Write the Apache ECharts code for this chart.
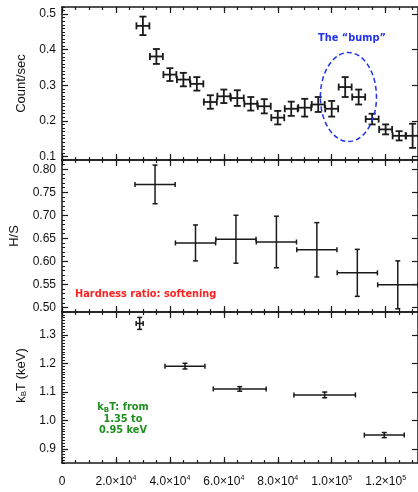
<!DOCTYPE html>
<html>
<head>
<meta charset="utf-8">
<script src="https://cdn.jsdelivr.net/npm/echarts@6/dist/echarts.min.js"></script>
<style>
html, body { margin: 0; padding: 0; background: #fff; }
#chart { width: 418px; height: 492px; }
</style>
</head>
<body>
<div id="chart"></div>
<script>
// light curve, 5 ks bins
var countTime = [30000, 35000, 40000, 45000, 50000, 55000, 60000, 65000, 70000, 75000, 80000,
                 85000, 90000, 95000, 100000, 105000, 110000, 115000, 120000, 125000, 130000];
var countRate = [0.467, 0.381, 0.330, 0.316, 0.304, 0.253, 0.269, 0.264, 0.248, 0.241, 0.209,
                 0.234, 0.237, 0.246, 0.234, 0.295, 0.267, 0.205, 0.176, 0.158, 0.158];
var countErr = [0.026, 0.021, 0.018, 0.019, 0.019, 0.019, 0.019, 0.022, 0.019, 0.020, 0.019,
                0.020, 0.025, 0.021, 0.022, 0.028, 0.021, 0.015, 0.014, 0.013, 0.034];
var countHalfBin = 2400;

// hardness ratio, 15 ks bins
var hsTime = [34500, 49500, 64500, 79500, 94500, 109500, 124500];
var hsRatio = [0.767, 0.640, 0.648, 0.642, 0.625, 0.575, 0.549];
var hsErr = [0.042, 0.039, 0.052, 0.056, 0.059, 0.051, 0.052];
var hsHalfBin = 7450;

// temperature
var ktTime = [28800, 45600, 65900, 97400, 119500];
var ktHalfBin = [1300, 7400, 9800, 11400, 7400];
var ktValue = [1.340, 1.190, 1.110, 1.089, 0.948];
var ktErr = [0.021, 0.010, 0.008, 0.010, 0.009];

// the "bump" ring: centre x, centre y, half width, half height
var bump = [106200, 0.267, 10400, 0.125];

var xTicks = [0, 20000, 40000, 60000, 80000, 100000, 120000];
var countTicks = [0.1, 0.2, 0.3, 0.4, 0.5];
var hsTicks = [0.50, 0.55, 0.60, 0.65, 0.70, 0.75, 0.80];
var ktTicks = [0.9, 1.0, 1.1, 1.2, 1.3];

var xRange = [0, 132000];
var yRanges = [[0.09, 0.52], [0.49, 0.82], [0.85, 1.38]];

var INK = '#1a1a1a';
var FONT = '"Liberation Sans", Arial, sans-serif';
var NOTE = '"DejaVu Sans", sans-serif';

function steps(a, b, s) {
    var out = [];
    for (var v = a; v <= b + 1e-9; v += s) out.push(Math.round(v * 1e6) / 1e6);
    return out;
}
var xMinor = steps(0, 130000, 5000);

function sciLabel(v) {
    if (v === 0) return '{m|0}';
    var e = Math.floor(Math.log10(v) + 1e-9);
    return '{m|' + (v / Math.pow(10, e)).toFixed(1) + '×10}{s|' + e + '}';
}

var grids = [
    { left: 62, top: 7, width: 358, height: 153 },
    { left: 62, top: 160, width: 358, height: 152 },
    { left: 62, top: 312, width: 358, height: 151 }
];

var xAxes = [];
grids.forEach(function (g, gi) {
    ['bottom', 'top'].forEach(function (pos) {
        var showLab = (gi === 2 && pos === 'bottom');
        xAxes.push({
            type: 'value', gridIndex: gi, position: pos, min: xRange[0], max: xRange[1],
            axisLine: { show: true, onZero: false, lineStyle: { color: INK, width: 1.5 } },
            axisTick: { show: true, inside: true, length: 6, customValues: xTicks, lineStyle: { color: INK, width: 1.2 } },
            axisLabel: {
                show: showLab, customValues: xTicks, margin: 12, formatter: sciLabel,
                rich: {
                    m: { fontFamily: FONT, fontSize: 12, color: '#111', lineHeight: 14 },
                    s: { fontFamily: FONT, fontSize: 7, color: '#111', verticalAlign: 'top', lineHeight: 14 }
                }
            },
            splitLine: { show: false }
        });
        xAxes.push({
            type: 'value', gridIndex: gi, position: pos, min: xRange[0], max: xRange[1],
            axisLine: { show: false },
            axisTick: { show: true, inside: true, length: 3, customValues: xMinor, lineStyle: { color: INK, width: 1.2 } },
            axisLabel: { show: false },
            splitLine: { show: false }
        });
    });
});

var yMajor = [countTicks, hsTicks, ktTicks];
var yDigits = [1, 2, 1];
var yNames = ['Count/sec', 'H/S', 'k{s|B}T (keV)'];
var yGaps = [34, 41, 34];
var yPads = [0, 0, [0, 0, 0, 24]];

var yAxes = [];
grids.forEach(function (g, gi) {
    var r = yRanges[gi];
    yAxes.push({
        type: 'value', gridIndex: gi, position: 'left', min: r[0], max: r[1],
        name: yNames[gi], nameLocation: 'middle', nameGap: yGaps[gi],
        nameTextStyle: {
            fontFamily: FONT, fontSize: 13, color: '#111', padding: yPads[gi],
            rich: { s: { fontFamily: FONT, fontSize: 8, color: '#111', verticalAlign: 'bottom' } }
        },
        axisLine: { show: true, onZero: false, lineStyle: { color: INK, width: 1.5 } },
        axisTick: { show: true, inside: true, length: 6, customValues: yMajor[gi], lineStyle: { color: INK, width: 1.2 } },
        axisLabel: {
            customValues: yMajor[gi], margin: 6, fontFamily: FONT, fontSize: 12, color: '#111',
            formatter: (function (d) { return function (v) { return v.toFixed(d); }; })(yDigits[gi])
        },
        splitLine: { show: false }
    });
    yAxes.push({
        type: 'value', gridIndex: gi, position: 'left', min: r[0], max: r[1],
        axisLine: { show: false },
        axisTick: { show: true, inside: true, length: 3, customValues: steps(r[0], r[1], 0.01), lineStyle: { color: INK, width: 1 } },
        axisLabel: { show: false },
        splitLine: { show: false }
    });
    yAxes.push({
        type: 'value', gridIndex: gi, position: 'right', min: r[0], max: r[1],
        axisLine: { show: true, onZero: false, lineStyle: { color: INK, width: 1.5 } },
        axisTick: { show: true, inside: true, length: 6, customValues: yMajor[gi], lineStyle: { color: INK, width: 1.2 } },
        axisLabel: { show: false },
        splitLine: { show: false }
    });
});

function errorBars(gi, xs, ys, xe, ye, cap, lw) {
    var data = xs.map(function (x, i) {
        return [x, ys[i], Array.isArray(xe) ? xe[i] : xe, ye[i]];
    });
    return {
        type: 'custom', xAxisIndex: gi * 4, yAxisIndex: gi * 3, data: data, clip: true,
        encode: { x: 0, y: 1 },
        renderItem: function (params, api) {
            var x = api.value(0), y = api.value(1), dx = api.value(2), dy = api.value(3);
            var l = api.coord([x - dx, y]), r = api.coord([x + dx, y]);
            var t = api.coord([x, y + dy]), b = api.coord([x, y - dy]);
            var st = { stroke: INK, lineWidth: lw, fill: null };
            function seg(x1, y1, x2, y2) {
                return { type: 'line', shape: { x1: x1, y1: y1, x2: x2, y2: y2 }, style: st };
            }
            return {
                type: 'group', children: [
                    seg(l[0], l[1], r[0], r[1]),
                    seg(t[0], t[1], b[0], b[1]),
                    seg(l[0], l[1] - cap, l[0], l[1] + cap),
                    seg(r[0], r[1] - cap, r[0], r[1] + cap),
                    seg(t[0] - cap, t[1], t[0] + cap, t[1]),
                    seg(b[0] - cap, b[1], b[0] + cap, b[1])
                ]
            };
        }
    };
}

var series = [
    errorBars(0, countTime, countRate, countHalfBin, countErr, 3.5, 1.8),
    errorBars(1, hsTime, hsRatio, hsHalfBin, hsErr, 2.5, 1.5),
    errorBars(2, ktTime, ktValue, ktHalfBin, ktErr, 2.5, 1.5),
    {
        type: 'custom', xAxisIndex: 0, yAxisIndex: 0, data: [bump], clip: false,
        renderItem: function (params, api) {
            var c = api.coord([api.value(0), api.value(1)]);
            var s = api.size([api.value(2), api.value(3)]);
            return {
                type: 'ellipse', shape: { cx: c[0], cy: c[1], rx: s[0], ry: s[1] },
                style: { stroke: '#2233ee', lineWidth: 1.5, lineDash: [5, 3], fill: null }
            };
        }
    }
];

var chart = echarts.init(document.getElementById('chart'), null, { renderer: 'canvas' });
chart.setOption({
    animation: false,
    backgroundColor: '#fff',
    grid: grids,
    xAxis: xAxes,
    yAxis: yAxes,
    series: series,
    graphic: [
        {
            type: 'text', x: 352, y: 38,
            style: { text: 'The “bump”', fill: '#2233ee', font: 'bold 9.8px ' + NOTE, align: 'center', verticalAlign: 'middle' }
        },
        {
            type: 'text', x: 75, y: 294,
            style: { text: 'Hardness ratio: softening', fill: '#ff2020', font: 'bold 9.8px ' + NOTE, align: 'left', verticalAlign: 'middle' }
        },
        {
            type: 'text', x: 123, y: 419,
            style: {
                text: 'k{s|B}T: from\n1.35 to\n0.95 keV', fill: '#1f8f1f', font: 'bold 9.8px ' + NOTE,
                align: 'center', verticalAlign: 'middle', lineHeight: 11.5,
                rich: { s: { fill: '#1f8f1f', font: 'bold 7px ' + NOTE, verticalAlign: 'bottom', lineHeight: 11.5 } }
            }
        }
    ]
});
</script>
</body>
</html>
